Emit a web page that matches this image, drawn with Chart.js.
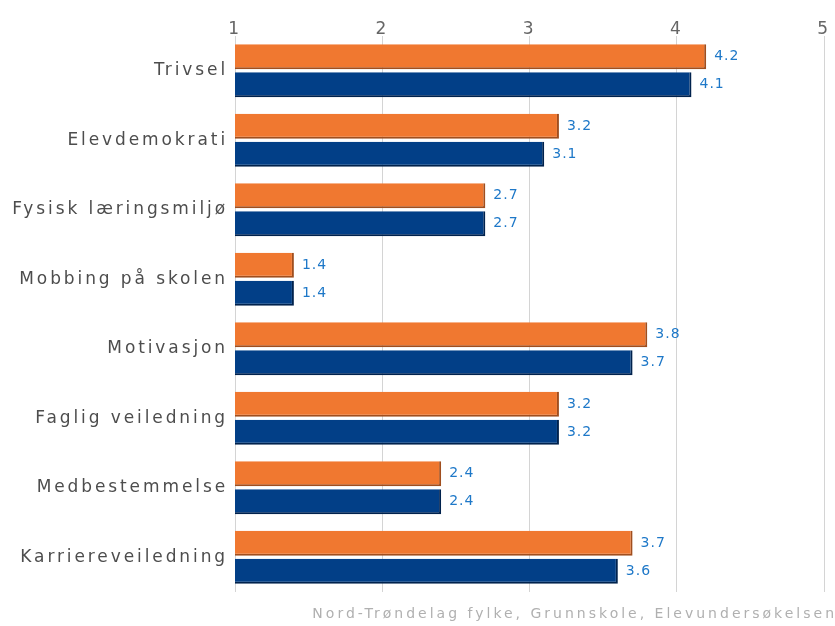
<!DOCTYPE html>
<html>
<head>
<meta charset="utf-8">
<script src="https://cdn.jsdelivr.net/npm/chart.js@4/dist/chart.umd.min.js"></script>
<style>
	body { margin: 0; background: #fff; }
	#wrap { width: 835px; height: 626px; }
</style>
</head>
<body>
<div id="wrap"><canvas id="elevCanvas" width="835" height="626"></canvas></div>
<script>
////////////data////////////
var categories = ['Trivsel', 'Elevdemokrati', 'Fysisk læringsmiljø', 'Mobbing på skolen',
	'Motivasjon', 'Faglig veiledning', 'Medbestemmelse', 'Karriereveiledning'];
var orangeValues = [4.2, 3.2, 2.7, 1.4, 3.8, 3.2, 2.4, 3.7];
var blueValues = [4.1, 3.1, 2.7, 1.4, 3.7, 3.2, 2.4, 3.6];
var tickValues = [1, 2, 3, 4, 5];
var footerText = 'Nord-Trøndelag fylke, Grunnskole, Elevundersøkelsen';

var fontName = 'DejaVu Sans';
Chart.defaults.font.family = fontName;

////////////text plugin (spacing, value labels, footer)////////////
var extraText = {
	id: 'extraText',
	beforeDraw: function(chart) {
		//category labels are spaced out in the original
		chart.ctx.letterSpacing = '2.9px';
	},
	afterDatasetsDraw: function(chart) {
		var ctx = chart.ctx;
		ctx.save();
		ctx.letterSpacing = '1px';
		ctx.font = '14px "' + fontName + '"';
		ctx.fillStyle = '#1e78c8';
		ctx.textBaseline = 'middle';
		ctx.textAlign = 'left';
		chart.data.datasets.forEach(function(ds, i) {
			chart.getDatasetMeta(i).data.forEach(function(bar, j) {
				ctx.fillText(ds.data[j].toFixed(1), bar.x + 8, bar.y);
			});
		});
		ctx.restore();
	},
	afterDraw: function(chart) {
		var ctx = chart.ctx;
		ctx.save();
		ctx.letterSpacing = '3px';
		ctx.font = '14px "' + fontName + '"';
		ctx.fillStyle = '#b0b0b0';
		ctx.textBaseline = 'middle';
		ctx.textAlign = 'right';
		ctx.fillText(footerText, chart.width + 2, 614);
		ctx.restore();
		chart.ctx.letterSpacing = '0px';
	}
};

////////////create chart////////////
var myChart = new Chart(document.getElementById('elevCanvas'), {
	type: 'bar',
	data: {
		labels: categories,
		datasets: [{
			data: orangeValues,
			backgroundColor: '#f07830',
			borderColor: '#a04e1e',
			borderWidth: { top: 0, right: 2, bottom: 2, left: 0 },
			borderSkipped: false,
			categoryPercentage: 0.8,
			barPercentage: 0.9
		}, {
			data: blueValues,
			backgroundColor: '#023f87',
			borderColor: '#00224d',
			borderWidth: { top: 0, right: 2, bottom: 2, left: 0 },
			borderSkipped: false,
			categoryPercentage: 0.8,
			barPercentage: 0.9
		}]
	},
	options: {
		indexAxis: 'y',
		responsive: false,
		animation: false,
		layout: { padding: { top: 0, right: 11, left: 0, bottom: 34 } },
		plugins: {
			legend: { display: false },
			tooltip: { enabled: false }
		},
		scales: {
			x: {
				position: 'top',
				min: 1,
				max: 5,
				afterBuildTicks: function(axis) {
					axis.ticks = tickValues.map(function(v) { return { value: v }; });
				},
				afterFit: function(axis) { axis.height = 36; },
				grid: { color: '#d4d4d4', drawTicks: false, lineWidth: 1 },
				border: { display: false },
				ticks: {
					color: '#666666',
					padding: -4,
					font: { family: fontName, size: 17 }
				}
			},
			y: {
				afterFit: function(axis) { axis.width = 235; },
				grid: { display: false },
				border: { display: false },
				ticks: {
					color: '#4d4d4d',
					padding: -1,
					font: { family: fontName, size: 17 }
				}
			}
		}
	},
	plugins: [extraText]
}); //end new Chart
</script>
</body>
</html>
